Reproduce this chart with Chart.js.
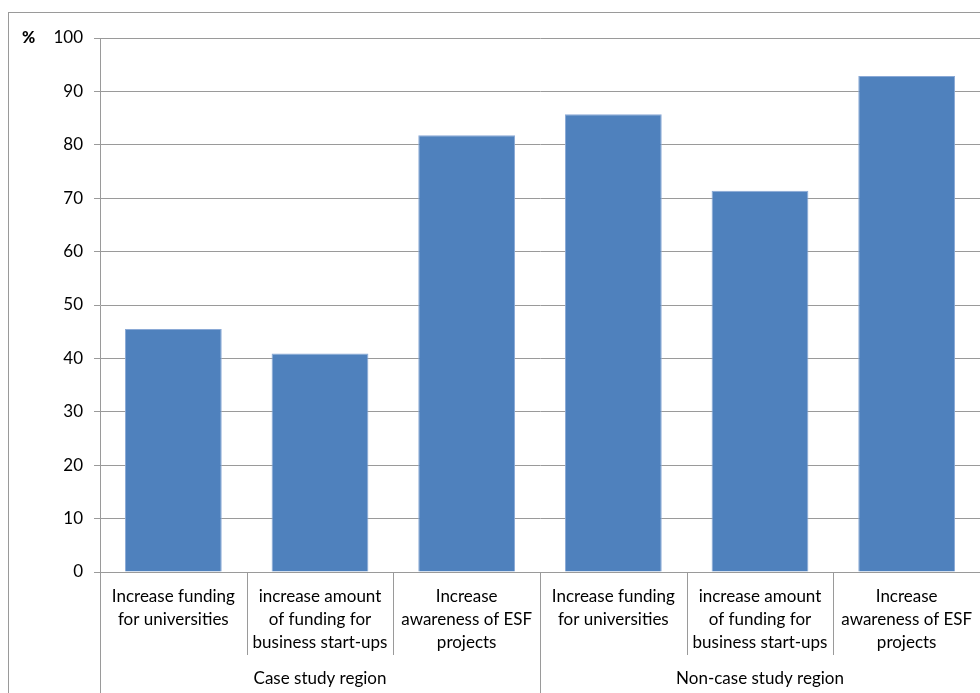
<!DOCTYPE html>
<html>
<head>
<meta charset="utf-8">
<script src="https://cdn.jsdelivr.net/npm/chart.js@4"></script>
<style>
  html, body { margin: 0; padding: 0; background: #fff; }
  #wrap { width: 980px; height: 693px; }
</style>
</head>
<body>
<div id="wrap"><canvas id="Survey" width="980" height="693"></canvas></div>
<script>
var categories = [
    ["Increase funding", "for universities"],
    ["increase amount", "of funding for", "business start-ups"],
    ["Increase", "awareness of ESF", "projects"],
    ["Increase funding", "for universities"],
    ["increase amount", "of funding for", "business start-ups"],
    ["Increase", "awareness of ESF", "projects"]
];
var groups = ["Case study region", "Non-case study region"];
var groupSizes = [3, 3];
var values = [45.5, 40.9, 81.8, 85.7, 71.4, 92.9];
var yTicks = [0, 10, 20, 30, 40, 50, 60, 70, 80, 90, 100];

var FONT = "Lato, 'Open Sans', sans-serif";
var LINE = "#9a9a9a";

// frame, "%" label and the category / group separators
var extras = {
    id: "extras",
    beforeDraw: function (chart) {
        var ctx = chart.ctx;
        ctx.save();
        ctx.fillStyle = "#fff";
        ctx.fillRect(0, 0, chart.width, chart.height);
        ctx.strokeStyle = LINE;
        ctx.lineWidth = 1;
        ctx.strokeRect(8.5, 12.5, chart.width + 20, chart.height + 20);
        ctx.restore();
    },
    afterDraw: function (chart) {
        var ctx = chart.ctx;
        var x = chart.scales.x;
        var area = chart.chartArea;
        var half = (x.getPixelForValue(1) - x.getPixelForValue(0)) / 2;
        var ends = {};
        var acc = 0;
        ends[0] = true;
        groupSizes.forEach(function (n) { acc += n; ends[acc] = true; });
        ctx.save();
        ctx.strokeStyle = LINE;
        ctx.lineWidth = 1;
        for (var i = 0; i <= categories.length; i++) {
            var px = Math.round(x.getPixelForValue(i) - half) + 0.5;
            ctx.beginPath();
            ctx.moveTo(px, area.bottom);
            ctx.lineTo(px, ends[i] ? chart.height : x.bottom);
            ctx.stroke();
        }
        ctx.fillStyle = "#000";
        ctx.font = "900 16px " + FONT;
        ctx.textAlign = "left";
        ctx.textBaseline = "middle";
        ctx.fillText("%", 22, chart.scales.y.getPixelForValue(100));
        ctx.restore();
    }
};

var chart = new Chart(document.getElementById("Survey").getContext("2d"), {
    type: "bar",
    data: {
        labels: categories,
        datasets: [{
            data: values,
            backgroundColor: "#4f81bd",
            borderColor: "#8aa9d6",
            borderWidth: 1,
            barPercentage: 0.66,
            categoryPercentage: 1
        }]
    },
    options: {
        responsive: false,
        animation: false,
        layout: { padding: { top: 38, left: 0, right: 0, bottom: 0 } },
        plugins: { legend: { display: false }, tooltip: { enabled: false } },
        scales: {
            x: {
                offset: true,
                grid: { display: false },
                border: { display: false },
                ticks: {
                    color: "#000",
                    font: { family: FONT, size: 17, lineHeight: 1.35 },
                    padding: 5,
                    maxRotation: 0,
                    autoSkip: false
                },
                afterFit: function (s) { s.height = 83; }
            },
            x2: {
                type: "category",
                position: "bottom",
                labels: groups,
                offset: true,
                grid: { display: false },
                border: { display: false },
                ticks: {
                    color: "#000",
                    font: { family: FONT, size: 17 },
                    padding: 5,
                    maxRotation: 0,
                    autoSkip: false
                },
                afterFit: function (s) { s.height = 38; }
            },
            y: {
                min: 0,
                max: 100,
                afterBuildTicks: function (s) {
                    s.ticks = yTicks.map(function (v) { return { value: v }; });
                },
                grid: { color: LINE, tickLength: 6 },
                border: { color: LINE },
                ticks: {
                    color: "#000",
                    font: { family: FONT, size: 17 },
                    padding: 11
                },
                afterFit: function (s) { s.width = 100; }
            }
        }
    },
    plugins: [extras]
});
</script>
</body>
</html>
